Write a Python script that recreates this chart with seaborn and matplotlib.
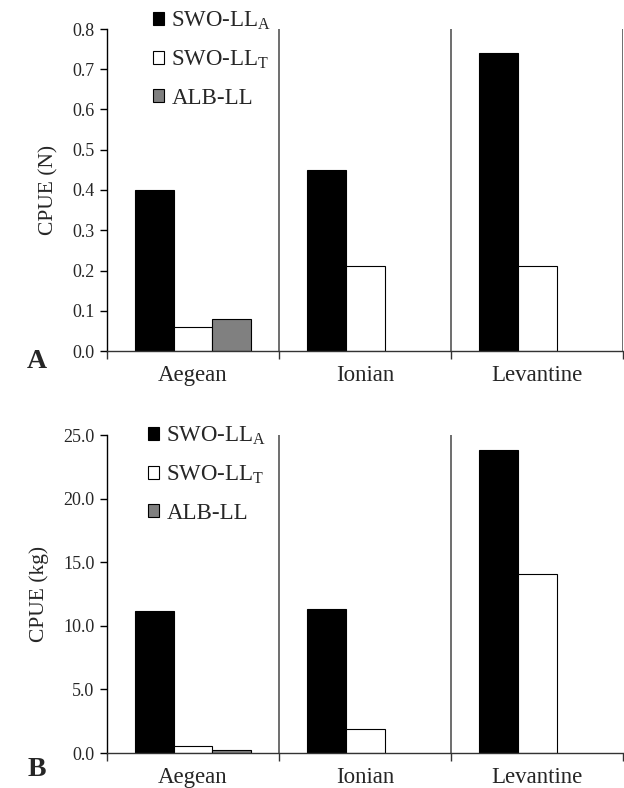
import numpy as np
import pandas as pd
import matplotlib
matplotlib.use("Agg")
import matplotlib.pyplot as plt
import seaborn as sns
from matplotlib.patches import Patch
from matplotlib.ticker import FormatStrFormatter, MultipleLocator, FixedLocator

# ---- data ----
regions = ["Aegean", "Ionian", "Levantine"]
series = ["SWO-LL_A", "SWO-LL_T", "ALB-LL"]
series_labels = [r"SWO-LL$_{\mathrm{A}}$", r"SWO-LL$_{\mathrm{T}}$", "ALB-LL"]
cpue_n_swo_a = [0.40, 0.45, 0.74]
cpue_n_swo_t = [0.06, 0.21, 0.21]
cpue_n_alb = [0.08, np.nan, np.nan]
cpue_kg_swo_a = [11.2, 11.3, 23.8]
cpue_kg_swo_t = [0.55, 1.86, 14.1]
cpue_kg_alb = [0.25, np.nan, np.nan]
colors = ["#000000", "#ffffff", "#808080"]

sns.set_style("white")
plt.rcParams["font.family"] = ["Liberation Serif", "DejaVu Serif"]
plt.rcParams["mathtext.fontset"] = "custom"
plt.rcParams["mathtext.rm"] = "Liberation Serif"
plt.rcParams["mathtext.it"] = "Liberation Serif:italic"
plt.rcParams["mathtext.bf"] = "Liberation Serif:bold"


def make_df(a, t, g):
    rows = []
    for vals, s in zip([a, t, g], series):
        for r, v in zip(regions, vals):
            rows.append({"region": r, "series": s, "value": v})
    return pd.DataFrame(rows)


fig = plt.figure(figsize=(6.24, 7.88), dpi=100)
W, H = 624, 788


def axes_px(left, top, right, bottom):
    return fig.add_axes([left / W, 1 - bottom / H, (right - left) / W, (bottom - top) / H])


axA = axes_px(107, 29, 623.5, 351)
axB = axes_px(107, 435, 623.5, 753)

panels = [
    (axA, make_df(cpue_n_swo_a, cpue_n_swo_t, cpue_n_alb), 0.8, 0.1, "CPUE (N)", "A", 361, 3, 10, 153),
    (axB, make_df(cpue_kg_swo_a, cpue_kg_swo_t, cpue_kg_alb), 25.0, 5.0, "CPUE (kg)", "B", 769, 2, 425, 148),
]

for ax, df, ymax, step, ylabel, letter, letter_y, nsep, leg_top, leg_x in panels:
    sns.barplot(data=df, x="region", y="value", hue="series", hue_order=series,
                palette=colors, edgecolor="black", linewidth=0.8, width=0.675,
                errorbar=None, ax=ax, legend=False)
    ax.set_xlim(-0.5, 2.5)
    ax.set_ylim(0, ymax)
    ax.yaxis.set_major_locator(MultipleLocator(step))
    ax.yaxis.set_major_formatter(FormatStrFormatter("%.1f"))
    ax.set_xlabel("")
    ax.set_ylabel(ylabel, fontsize=15.5, labelpad=10)
    for sp in ["top", "right"]:
        ax.spines[sp].set_visible(False)
    ax.spines["left"].set_color("black")
    ax.spines["left"].set_linewidth(1.0)
    ax.spines["bottom"].set_color("#333333")
    ax.spines["bottom"].set_linewidth(1.0)
    ax.tick_params(axis="y", direction="out", length=5, width=1, left=True,
                   labelsize=13, pad=4, color="black")
    ax.tick_params(axis="x", which="major", length=0, labelsize=16.5, pad=10)
    ax.xaxis.set_minor_locator(FixedLocator([-0.5, 0.5, 1.5, 2.5]))
    ax.tick_params(axis="x", which="minor", direction="out", length=6, width=1,
                   bottom=True, color="#333333")
    for k in range(nsep):
        ax.axvline(0.5 + k, ymin=0, ymax=1, color="#555555", linewidth=1.2)
    handles = [Patch(facecolor=c, edgecolor="black", linewidth=0.8) for c in colors]
    ax.legend(handles, series_labels, loc="upper left",
              bbox_to_anchor=(leg_x / W, 1 - leg_top / H), bbox_transform=fig.transFigure,
              frameon=False, fontsize=16.5, handlelength=0.5, handleheight=0.5,
              handletextpad=0.3, labelspacing=0.72, borderpad=0, borderaxespad=0)
    fig.text(37 / W, 1 - letter_y / H, letter, fontsize=20, fontweight="bold",
             ha="center", va="center")

fig.savefig("out.png", dpi=100)
